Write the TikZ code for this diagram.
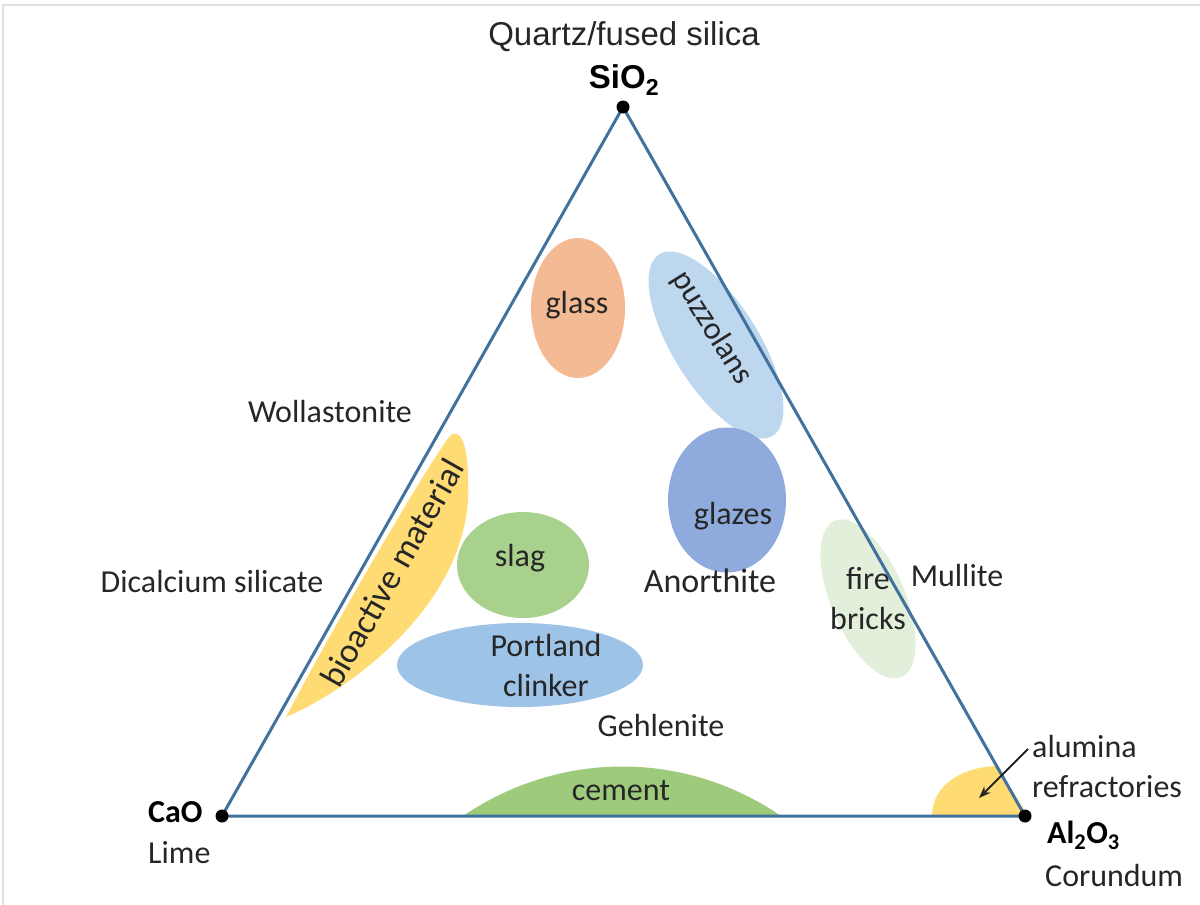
\documentclass[tikz,border=0pt]{standalone}
\usepackage{fontspec}
\setmainfont{Carlito}
\newfontfamily\arialfont{Liberation Sans}
\usetikzlibrary{positioning, arrows.meta, shapes.geometric}
\definecolor{edgeblue}{RGB}{65, 113, 156}
\definecolor{textgray}{RGB}{38, 38, 38}
\definecolor{glassorange}{RGB}{244, 186, 148}
\definecolor{puzzblue}{RGB}{189, 215, 238}
\definecolor{glazeblue}{RGB}{143, 170, 220}
\definecolor{slaggreen}{RGB}{169, 209, 142}
\definecolor{clinkerblue}{RGB}{157, 195, 230}
\definecolor{bioyellow}{RGB}{255, 220, 115}
\definecolor{brickgreen}{RGB}{226, 239, 218}
\definecolor{cementgreen}{RGB}{158, 202, 124}

\begin{document}
\begin{tikzpicture}[
    x=1pt, y=-1pt, % pixel-like units, y runs downward
    blob/.style={ % filled region, takes fill color as argument
        ellipse,
        draw=none,
        inner sep=0pt,
        fill=#1
    },
    side/.style={draw=edgeblue, line width=3pt, line join=round},
    vertex_dot/.style={circle, fill=black, inner sep=0pt, minimum size=13pt},
    % Style for labels
    phase_text/.style={
        font=\fontsize{32}{40}\selectfont,
        text=textgray,
        align=center,
        inner sep=0pt
    },
    oxide_text/.style={font=\bfseries\fontsize{32}{40}\selectfont, text=black, inner sep=0pt},
    top_text/.style={font=\arialfont\fontsize{33}{40}\selectfont, text=textgray, inner sep=0pt},
    pointer/.style={-{Stealth[length=12pt, width=9pt]}, line width=1.8pt, draw=textgray},
    frame/.style={draw=black!12, line width=2pt}
]
\useasboundingbox (0,0) rectangle (1200,905);
\draw[frame] (3,905) -- (3,5) -- (1200,5);

% Corners of the ternary diagram
\coordinate (sio2) at (623,107);
\coordinate (cao) at (222,816);
\coordinate (al2o3) at (1025,816);

% Regions
\node[blob=glassorange, minimum width=94, minimum height=140] (glass) at (578,308) {};
\node[blob=puzzblue, minimum width=214, minimum height=86, rotate=-58] (puzz) at (716,345) {};
\node[blob=glazeblue, minimum width=118, minimum height=145] (glazes) at (727,500) {};
\node[blob=slaggreen, minimum width=132, minimum height=106] (slag) at (523,565) {};
\node[blob=clinkerblue, minimum width=246, minimum height=84] (clinker) at (520,665) {};
\node[blob=brickgreen, minimum width=170, minimum height=74, rotate=-67] (bricks) at (868,599) {};
\fill[bioyellow] (286,717) .. controls (350,690) and (475,600) .. (468,480)
    .. controls (468,445) and (460,425) .. (449,437)
    .. controls (418,480) and (326,640) .. cycle;
\fill[cementgreen] (463,816) .. controls (560,750) and (685,750) .. (781,816) -- cycle;
\fill[bioyellow] (932,816) .. controls (932,785) and (962,767) .. (997,766) -- (1028,816) -- cycle;

% Region labels
\node[phase_text] (glass_text) at (577,305) {glass};
\node[phase_text, rotate=-58] (puzz_text) at (712,328) {puzzolans};
\node[phase_text] (glazes_text) at (733,516) {glazes};
\node[phase_text] (slag_text) at (520,558) {slag};
\node[phase_text] (clinker_text) at (546,665) {Portland\\clinker};
\node[phase_text] (bricks_text) at (868,599) {fire\\bricks};
\node[phase_text] (cement_text) at (621,790) {cement};
\node[phase_text, font=\fontsize{35}{40}\selectfont, rotate=60.5] (bio_text) at (392,573) {bioactive material};

% Sides of the triangle
\draw[side] (sio2) -- (cao) -- (al2o3) -- cycle;
\node[vertex_dot] (sio2_dot) at (sio2) {};
\node[vertex_dot] (cao_dot) at (cao) {};
\node[vertex_dot] (al2o3_dot) at (al2o3) {};

% Compounds along the sides
\node[phase_text] (wollastonite) at (330,412) {Wollastonite};
\node[phase_text] (dicalcium) at (212,582) {Dicalcium silicate};
\node[phase_text] (mullite) at (957,576) {Mullite};
\node[phase_text, font=\fontsize{34}{40}\selectfont] (anorthite) at (710,581) {Anorthite};
\node[phase_text] (gehlenite) at (661,725) {Gehlenite};

% Corner labels
\node[top_text] (quartz) at (624,37) {Quartz/fused silica};
\node[top_text, font=\arialfont\bfseries\fontsize{33}{40}\selectfont, anchor=base, text=black] (sio2_label) at (624,88) {SiO\textsubscript{2}};
\node[oxide_text, anchor=west] (cao_label) at (148,812) {CaO};
\node[phase_text, anchor=west] (lime) at (148,853) {Lime};
\node[oxide_text, anchor=west] (al2o3_label) at (1047,835) {Al\textsubscript{2}O\textsubscript{3}};
\node[phase_text, anchor=west] (corundum) at (1045,875) {Corundum};
\node[phase_text, align=left, anchor=west] (alumina) at (1032,766) {alumina\\refractories};

\coordinate (alumina_start) at (1028,749);
\coordinate (alumina_end) at (979,798);
\draw[pointer] (alumina_start) -- (alumina_end);

\end{tikzpicture}
\end{document}
